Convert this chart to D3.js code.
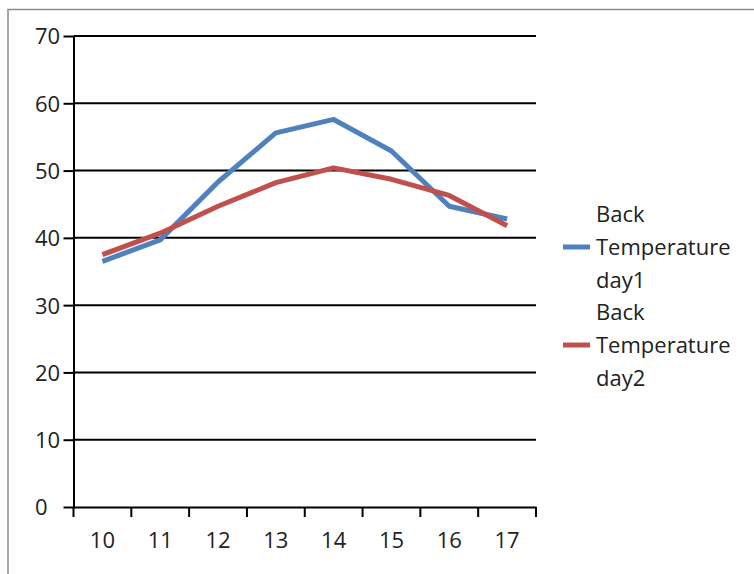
<!DOCTYPE html>
<html><head><meta charset="utf-8">
<script src="https://cdn.jsdelivr.net/npm/d3@7"></script>
<style>html,body{margin:0;padding:0;background:#fff;}svg{display:block;}</style>
</head><body>
<svg id="chart" width="754" height="574"></svg>
<script>
const categories = ["10","11","12","13","14","15","16","17"];
const day1 = [36.5, 39.7, 48.3, 55.6, 57.6, 52.9, 44.7, 42.8];
const day2 = [37.5, 40.7, 44.7, 48.2, 50.4, 48.7, 46.3, 41.8];
const seriesNames = [["Back","Temperature","day1"],["Back","Temperature","day2"]];
const yTicks = [0,10,20,30,40,50,60,70];

const svg = d3.select("#chart");
const font = "'Open Sans', sans-serif";
const colors = ["#4F81BD","#C0504D"];

// outer border
svg.append("rect").attr("x",8).attr("y",9.5).attr("width",800).attr("height",600)
  .attr("fill","none").attr("stroke","#8c8c8c").attr("stroke-width",1.5);

const x = d3.scaleBand().domain(categories).range([73.5,536]).padding(0);
const y = d3.scaleLinear().domain([0,70]).range([507,36]);

// gridlines
svg.append("g").selectAll("line").data(yTicks.filter(d=>d>0)).join("line")
  .attr("x1",73.5).attr("x2",536).attr("y1",d=>y(d)).attr("y2",d=>y(d))
  .attr("stroke","#000").attr("stroke-width",2);

// y axis
const yAxis = svg.append("g").attr("transform","translate(73.5,0)")
  .call(d3.axisLeft(y).tickValues(yTicks).tickSize(10).tickSizeOuter(0).tickFormat(d3.format("d")));
yAxis.select(".domain").attr("stroke","#000").attr("stroke-width",2);
yAxis.selectAll(".tick line").attr("stroke","#000").attr("stroke-width",2);
yAxis.selectAll(".tick text").attr("font-family",font).attr("font-size",22).attr("fill","#222")
  .attr("text-anchor","start").attr("x",-38.5).attr("dy","0.36em");

// x axis
const xAxis = svg.append("g").attr("transform","translate(0,507)")
  .call(d3.axisBottom(x).tickSize(0).tickSizeOuter(0));
xAxis.select(".domain").attr("stroke","#000").attr("stroke-width",2);
xAxis.selectAll(".tick text").attr("font-family",font).attr("font-size",22).attr("fill","#222")
  .attr("y",33).attr("dy","0.36em");
// boundary ticks between categories
const bounds = categories.map(c=>x(c)).concat([x.range()[1]]);
svg.append("g").selectAll("line").data(bounds).join("line")
  .attr("x1",d=>d).attr("x2",d=>d).attr("y1",507).attr("y2",517)
  .attr("stroke","#000").attr("stroke-width",2);

// lines
const line = d3.line().x((d,i)=>x(categories[i])+x.bandwidth()/2).y(d=>y(d));
[day1,day2].forEach((s,k)=>{
  svg.append("path").datum(s).attr("d",line).attr("fill","none")
    .attr("stroke",colors[k]).attr("stroke-width",5).attr("stroke-linejoin","round");
});

// legend
const legY = [247, 345];
seriesNames.forEach((names,k)=>{
  svg.append("line").attr("x1",563).attr("x2",590).attr("y1",legY[k]).attr("y2",legY[k])
    .attr("stroke",colors[k]).attr("stroke-width",5);
  names.forEach((t,j)=>{
    svg.append("text").attr("x",596).attr("y",legY[k]+(j-1)*32.7).attr("dy","0.36em")
      .attr("font-family",font).attr("font-size",22).attr("fill","#222").text(t);
  });
});
</script>
</body></html>
